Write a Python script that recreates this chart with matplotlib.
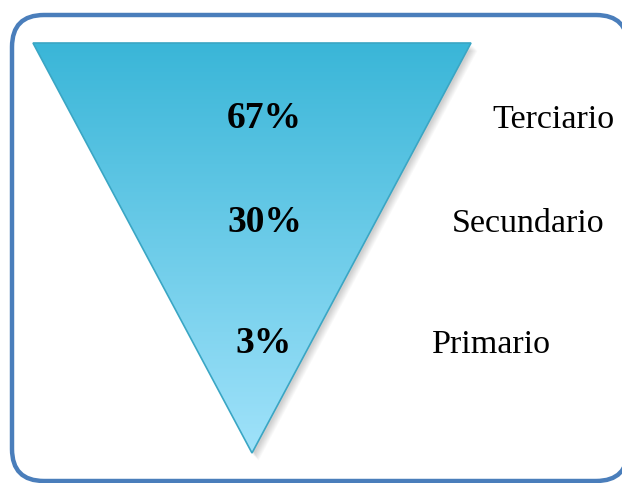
import numpy as np
import matplotlib.pyplot as plt
from matplotlib.patches import Polygon, FancyBboxPatch

# Sector shares, listed top to bottom of the funnel
sectors = ['Terciario', 'Secundario', 'Primario']
shares = [67, 30, 3]

# text baselines of the rows and where each sector name starts
row_y = [128, 232, 353]
name_x = [492, 452, 432]
pct_x = [264.5, 265, 264]

W, H = 622, 483
fig = plt.figure(figsize=(W / 100, H / 100), dpi=100)
ax = fig.add_axes([0, 0, 1, 1])
ax.set_xlim(0, W)
ax.set_ylim(H, 0)
ax.axis('off')

# rounded frame
frame = FancyBboxPatch((12, 15), 616, 466, boxstyle='round,pad=0,rounding_size=32',
                       facecolor='white', edgecolor='#4a7ebb', linewidth=3.2, zorder=1)
ax.add_patch(frame)

# inverted triangle
tri = [(33, 43), (471, 43), (252, 453)]

# soft drop shadow
for k in range(8, 0, -1):
    sh = Polygon([(x + 1 + k * 0.7, y + 2 + k * 0.7) for x, y in tri], closed=True,
                 facecolor='black', edgecolor='none', alpha=0.025, zorder=2)
    ax.add_patch(sh)

# vertical gradient fill clipped to the triangle
grad = np.linspace(0, 1, 256).reshape(-1, 1)
top = np.array([0x3a, 0xb6, 0xd8]) / 255
bot = np.array([0xa0, 0xe2, 0xfa]) / 255
img = top + (bot - top) * grad[..., None]
im = ax.imshow(img, extent=(33, 471, 453, 43), aspect='auto', zorder=3, interpolation='bilinear')
clip = Polygon(tri, closed=True, facecolor='none', edgecolor='none', transform=ax.transData)
ax.add_patch(clip)
im.set_clip_path(clip)
ax.add_patch(Polygon(tri, closed=True, facecolor='none', edgecolor='#3aa6c4',
                     linewidth=1.2, zorder=4))

for name, val, y, nx, px in zip(sectors, shares, row_y, name_x, pct_x):
    ax.text(px, y, f'{val}%', ha='center', va='baseline', fontsize=27, fontweight='bold',
            family='Liberation Serif', color='black', zorder=5)
    ax.text(nx, y, name, ha='left', va='baseline', fontsize=24.5,
            family='Liberation Serif', color='black', zorder=5)

fig.savefig('out.png', dpi=100)
